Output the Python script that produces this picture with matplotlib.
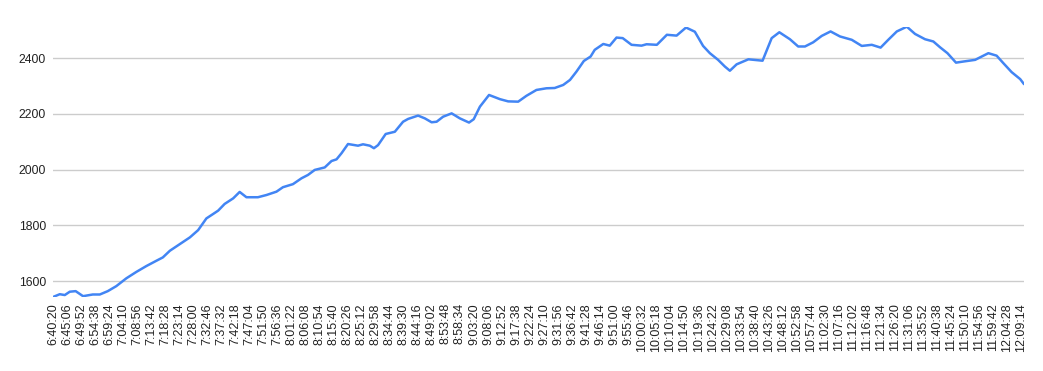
import matplotlib.pyplot as plt

# minutes elapsed since 6:40:20 and the plotted value
elapsed_min = [0.0, 2.3, 4.0, 5.7, 7.7, 10.2, 13.5, 15.9, 18.6, 21.5,
               24.9, 28.3, 31.7, 35.1, 37.3, 39.7, 43.1, 46.5, 49.3, 52.1,
               54.4, 56.1, 58.3, 61.2, 63.4, 65.7, 69.6, 72.5, 75.9, 78.1,
               81.5, 84.4, 86.6, 88.9, 92.3, 94.6, 96.3, 98.0, 100.2, 103.6,
               105.3, 107.6, 109.0, 110.4, 113.0, 116.1, 118.9, 120.6, 124.0, 126.3,
               128.6, 130.3, 132.5, 135.4, 138.2, 141.3, 142.9, 145.0, 148.1, 151.8,
               154.6, 158.0, 160.8, 164.2, 167.6, 170.4, 173.3, 175.6, 177.8, 180.3,
               182.6, 184.0, 186.9, 189.1, 191.4, 193.5, 196.5, 199.9, 201.6, 205.1,
               208.5, 211.8, 215.0, 218.0, 220.8, 223.1, 225.9, 228.2, 229.9, 232.2,
               236.2, 241.0, 244.1, 246.7, 250.3, 253.1, 255.4, 258.2, 261.1, 264.1,
               267.3, 271.3, 274.7, 278.1, 281.1, 283.7, 286.6, 290.0, 292.8, 296.2,
               299.0, 301.3, 303.8, 306.7, 309.2, 313.2, 317.7, 320.5, 322.8, 325.6,
               328.5, 329.8]
values = [1543, 1553, 1550, 1562, 1564, 1546, 1552, 1552, 1564, 1582,
          1610, 1633, 1654, 1673, 1685, 1709, 1733, 1757, 1783, 1825,
          1841, 1853, 1877, 1897, 1920, 1901, 1901, 1909, 1921, 1937,
          1948, 1969, 1981, 1999, 2008, 2031, 2037, 2059, 2092, 2086,
          2091, 2086, 2077, 2088, 2128, 2136, 2172, 2182, 2194, 2184,
          2170, 2172, 2190, 2202, 2184, 2169, 2181, 2226, 2268, 2253,
          2245, 2244, 2265, 2286, 2292, 2293, 2304, 2322, 2352, 2390,
          2406, 2430, 2451, 2445, 2474, 2472, 2448, 2445, 2450, 2448,
          2484, 2481, 2510, 2495, 2444, 2418, 2394, 2370, 2355, 2378,
          2396, 2391, 2472, 2493, 2468, 2442, 2442, 2457, 2480, 2496,
          2478, 2466, 2444, 2448, 2438, 2466, 2496, 2513, 2487, 2468,
          2460, 2439, 2418, 2384, 2388, 2394, 2418, 2409, 2382, 2350,
          2325, 2307]

tick_labels = ["6:40:20", "6:45:06", "6:49:52", "6:54:38", "6:59:24", "7:04:10", "7:08:56",
               "7:13:42", "7:18:28", "7:23:14", "7:28:00", "7:32:46", "7:37:32", "7:42:18",
               "7:47:04", "7:51:50", "7:56:36", "8:01:22", "8:06:08", "8:10:54", "8:15:40",
               "8:20:26", "8:25:12", "8:29:58", "8:34:44", "8:39:30", "8:44:16", "8:49:02",
               "8:53:48", "8:58:34", "9:03:20", "9:08:06", "9:12:52", "9:17:38", "9:22:24",
               "9:27:10", "9:31:56", "9:36:42", "9:41:28", "9:46:14", "9:51:00", "9:55:46",
               "10:00:32", "10:05:18", "10:10:04", "10:14:50", "10:19:36", "10:24:22", "10:29:08",
               "10:33:54", "10:38:40", "10:43:26", "10:48:12", "10:52:58", "10:57:44", "11:02:30",
               "11:07:16", "11:12:02", "11:16:48", "11:21:34", "11:26:20", "11:31:06", "11:35:52",
               "11:40:38", "11:45:24", "11:50:10", "11:54:56", "11:59:42", "12:04:28", "12:09:14"]
y_ticks = [1600, 1800, 2000, 2200, 2400]


def to_min(s):
    h, m, sec = (int(p) for p in s.split(":"))
    return h * 60 + m + sec / 60


t0 = to_min(tick_labels[0])
tick_pos = [to_min(s) - t0 for s in tick_labels]

plt.rcParams['font.family'] = ['Liberation Sans', 'DejaVu Sans']

fig = plt.figure(figsize=(10.43, 3.71), dpi=100)
W, H = 1043, 371
ax = fig.add_axes([53 / W, 1 - 297 / H, (1024 - 53) / W, (297 - 26.7) / H])

ax.plot(elapsed_min, values, color="#4285F4", linewidth=1.8,
        solid_joinstyle="round", solid_capstyle="round")

ax.set_xlim(elapsed_min[0], elapsed_min[-1])
ax.set_ylim(min(values), max(values))
ax.set_yticks(y_ticks)
ax.set_xticks(tick_pos)
ax.set_xticklabels(tick_labels, rotation=90, fontsize=9, color="#222222")
ax.tick_params(axis="y", labelsize=8.8, labelcolor="#222222", length=0, pad=5)
ax.tick_params(axis="x", length=0, pad=4.5)
ax.grid(axis="y", color="#cccccc", linewidth=1)
ax.set_axisbelow(True)
for s in ax.spines.values():
    s.set_visible(False)

fig.savefig("out.png", dpi=100)
